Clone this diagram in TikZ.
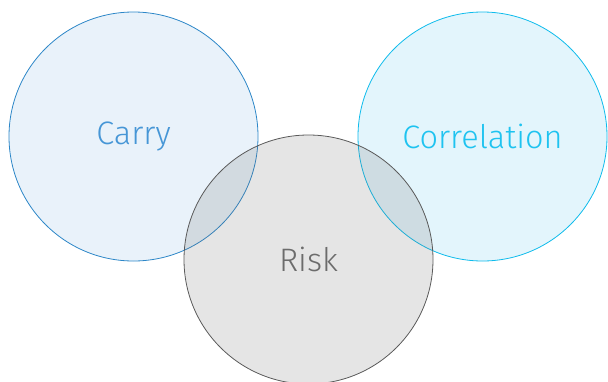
\documentclass[tikz,border=0pt]{standalone}
\usepackage{fontspec}
\setmainfont{Fira Sans Light}
\usetikzlibrary{positioning}
\definecolor{carryfill}{RGB}{233,242,250}
\definecolor{carryline}{RGB}{45,135,200}
\definecolor{carrytext}{RGB}{70,150,214}
\definecolor{corrfill}{RGB}{227,245,252}
\definecolor{corrline}{RGB}{15,188,236}
\definecolor{corrtext}{RGB}{30,195,240}
\definecolor{riskfill}{RGB}{111,111,111}
\definecolor{riskline}{RGB}{90,90,90}
\definecolor{risktext}{RGB}{108,108,108}
\tikzset{
  setcircle/.style={circle, minimum size=249pt, inner sep=0pt, line width=0.8pt,
                    font=\fontsize{32.5}{38}\selectfont}
}

\begin{document}
\begin{tikzpicture}[x=1pt, y=1pt]

\useasboundingbox (0,0) rectangle (608,-381);

% ── the two upper sets ───────────────────────────────────────────────────────
\node[setcircle, draw=carryline, fill=carryfill, text=carrytext]
     (carry) at (133.5,-136.5) {Carry};
\node[setcircle, draw=corrline, fill=corrfill, text=corrtext]
     (corr) at (482.5,-136.5) {Correlation};

% ── risk on top, see-through so the overlaps show ───────────────────────────
\node[setcircle, draw=riskline, fill=riskfill, fill opacity=0.18,
      text opacity=1, text=risktext]
     (risk) at (308.5,-259.5) {Risk};

\end{tikzpicture}
\end{document}
